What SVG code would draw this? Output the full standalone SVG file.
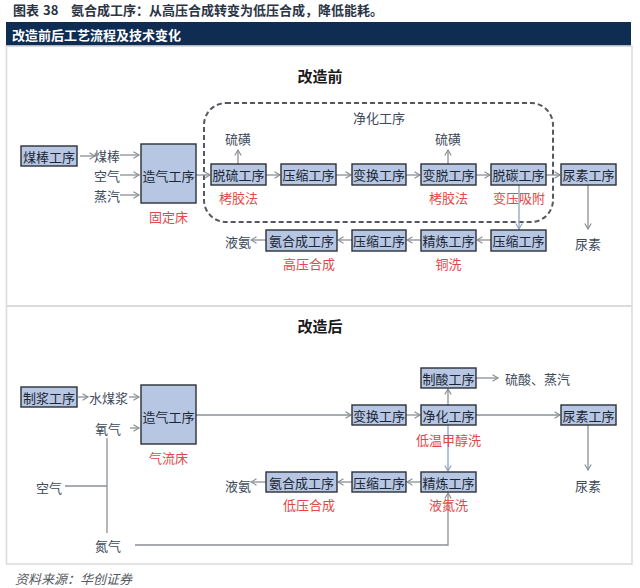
<svg xmlns="http://www.w3.org/2000/svg" width="640" height="588" viewBox="0 0 640 588">
<defs>
<marker id="ah" markerWidth="8" markerHeight="8" refX="6.5" refY="4" orient="auto" markerUnits="userSpaceOnUse">
<path d="M1,0.8 L6.5,4 L1,7.2" fill="none" stroke="#8a9096" stroke-width="1.2"/>
</marker>
<marker id="ahb" markerWidth="8" markerHeight="8" refX="6.5" refY="4" orient="auto" markerUnits="userSpaceOnUse">
<path d="M1,0.8 L6.5,4 L1,7.2" fill="none" stroke="#8fa2c2" stroke-width="1.2"/>
</marker>
<style>
text{font-family:"Noto Sans CJK SC","Noto Sans",sans-serif;}
.box{fill:#b6c6e3;stroke:#2b2f36;stroke-width:1.4;}
.bt{font-size:13px;fill:#1c2633;text-anchor:middle;dominant-baseline:central;}
.lb{font-size:13px;fill:#3d4a5b;text-anchor:middle;dominant-baseline:central;}
.rd{font-size:13px;fill:#e2474a;text-anchor:middle;dominant-baseline:central;}
.hd{font-size:15px;font-weight:bold;fill:#1a1a1a;text-anchor:middle;dominant-baseline:central;}
.ar{fill:none;stroke:#8a9096;stroke-width:1.3;marker-end:url(#ah);}
.arb{fill:none;stroke:#8fa2c2;stroke-width:1.3;marker-end:url(#ahb);}
.ln{fill:none;stroke:#8a9096;stroke-width:1.3;}
</style>
</defs>
<rect x="0" y="0" width="640" height="588" fill="#ffffff"/>
<text y="15" font-size="13" font-weight="bold" fill="#2a3444"><tspan x="13">图表</tspan><tspan x="43">38</tspan><tspan x="71">氨合成工序：从高压合成转变为低压合成，降低能耗。</tspan></text>
<rect x="6" y="22" width="625" height="24" fill="#0f2d52"/>
<line x1="6" y1="46.5" x2="631" y2="46.5" stroke="#c9d6e6" stroke-width="1"/>
<text x="12" y="34.5" font-size="13" font-weight="bold" fill="#ffffff" dominant-baseline="central">改造前后工艺流程及技术变化</text>
<rect x="6.5" y="46" width="625.5" height="518" fill="none" stroke="#dcdcdc" stroke-width="1.6"/>
<line x1="6.5" y1="306" x2="632" y2="306" stroke="#dcdcdc" stroke-width="2"/>

<text class="hd" x="320" y="75">改造前</text>
<text class="hd" x="320" y="325">改造后</text>

<g id="purify-zone">
<rect x="204" y="103" width="349" height="119" rx="22" fill="none" stroke="#55595f" stroke-width="2" stroke-dasharray="5,3"/>
<text class="lb" x="379" y="117">净化工序</text>
</g>

<g id="connectors">
<line class="ar" x1="80" y1="156" x2="95" y2="156"/>
<line class="ar" x1="120" y1="155" x2="139" y2="155"/>
<line class="ar" x1="120" y1="175" x2="139" y2="175"/>
<line class="ar" x1="120" y1="195" x2="139" y2="195"/>
<line class="ar" x1="196" y1="175" x2="210" y2="175"/>
<line class="ar" x1="238" y1="164" x2="238" y2="150"/>
<line class="ar" x1="266" y1="175" x2="280" y2="175"/>
<line class="ar" x1="336" y1="175" x2="351" y2="175"/>
<line class="ar" x1="406" y1="175" x2="420" y2="175"/>
<line class="ar" x1="448" y1="164" x2="448" y2="150"/>
<line class="ar" x1="476" y1="175" x2="490" y2="175"/>
<line class="ar" x1="546" y1="175" x2="560" y2="175"/>
<line class="ar" x1="588" y1="185" x2="588" y2="229"/>
<line class="arb" x1="519" y1="185" x2="519" y2="229"/>
<line class="ar" x1="491" y1="240" x2="477" y2="240"/>
<line class="ar" x1="421" y1="240" x2="407" y2="240"/>
<line class="ar" x1="352" y1="240" x2="338" y2="240"/>
<line class="ar" x1="266" y1="240" x2="251" y2="240"/>
<line class="ar" x1="78" y1="397" x2="88" y2="397"/>
<line class="ar" x1="129" y1="397" x2="139" y2="397"/>
<line class="ar" x1="130" y1="428" x2="139" y2="428"/>
<line class="ar" x1="196" y1="415" x2="351" y2="415"/>
<line class="ar" x1="406" y1="415" x2="420" y2="415"/>
<line class="ar" x1="476" y1="415" x2="560" y2="415"/>
<line class="ar" x1="448" y1="405" x2="448" y2="389"/>
<line class="ar" x1="476" y1="378" x2="498" y2="378"/>
<line class="arb" x1="448" y1="425" x2="448" y2="471"/>
<line class="ar" x1="588" y1="425" x2="588" y2="470"/>
<line class="ar" x1="421" y1="482" x2="407" y2="482"/>
<line class="ar" x1="352" y1="482" x2="338" y2="482"/>
<line class="ar" x1="266" y1="482" x2="251" y2="482"/>
<line class="ln" x1="107" y1="438" x2="107" y2="533"/>
<line class="ln" x1="65" y1="486" x2="107" y2="486"/>
<polyline class="ar" points="135,545 448,545 448,493"/>
</g>

<g id="n-meibang"><rect class="box" x="21" y="146" width="56" height="20"/><text class="bt" x="49" y="156">煤棒工序</text></g>
<g id="l-meibang"><text class="lb" x="107" y="155">煤棒</text></g>
<g id="l-kongqi1"><text class="lb" x="107" y="175">空气</text></g>
<g id="l-zhengqi1"><text class="lb" x="107" y="195">蒸汽</text></g>
<g id="n-zaoqi1"><rect class="box" x="141" y="144" width="55" height="59"/><text class="bt" x="168.5" y="175">造气工序</text><text class="rd" x="168.5" y="216">固定床</text></g>
<g id="n-tuoliu"><rect class="box" x="211" y="164" width="55" height="21"/><text class="bt" x="238.5" y="174.5">脱硫工序</text><text class="lb" x="238" y="138">硫磺</text><text class="rd" x="238.5" y="197">栲胶法</text></g>
<g id="n-yasuo1"><rect class="box" x="281" y="164" width="55" height="21"/><text class="bt" x="308.5" y="174.5">压缩工序</text></g>
<g id="n-bianhuan1"><rect class="box" x="352" y="164" width="54" height="21"/><text class="bt" x="379" y="174.5">变换工序</text></g>
<g id="n-biantuo"><rect class="box" x="421" y="164" width="55" height="21"/><text class="bt" x="448.5" y="174.5">变脱工序</text><text class="lb" x="448" y="138">硫磺</text><text class="rd" x="448.5" y="197">栲胶法</text></g>
<g id="n-tuotan"><rect class="box" x="491" y="164" width="55" height="21"/><text class="bt" x="518.5" y="174.5">脱碳工序</text><text class="rd" x="519" y="197">变压吸附</text></g>
<g id="n-niaosu1"><rect class="box" x="561" y="164" width="55" height="21"/><text class="bt" x="588.5" y="174.5">尿素工序</text></g>
<g id="l-niaosu1"><text class="lb" x="588" y="243">尿素</text></g>
<g id="n-yasuo2"><rect class="box" x="491" y="230" width="55" height="21"/><text class="bt" x="518.5" y="240.5">压缩工序</text></g>
<g id="n-jinglian1"><rect class="box" x="421" y="230" width="55" height="21"/><text class="bt" x="448.5" y="240.5">精炼工序</text><text class="rd" x="448.5" y="263">铜洗</text></g>
<g id="n-yasuo3"><rect class="box" x="352" y="230" width="54" height="21"/><text class="bt" x="379" y="240.5">压缩工序</text></g>
<g id="n-anhecheng1"><rect class="box" x="266" y="230" width="71" height="21"/><text class="bt" x="301.5" y="240.5">氨合成工序</text><text class="rd" x="309" y="263">高压合成</text></g>
<g id="l-yean1"><text class="lb" x="238" y="241">液氨</text></g>

<g id="n-zhijiang"><rect class="box" x="21" y="387" width="56" height="20"/><text class="bt" x="49" y="397">制浆工序</text></g>
<g id="l-shuimeijiang"><text class="lb" x="108.5" y="397">水煤浆</text></g>
<g id="l-yangqi"><text class="lb" x="108" y="428">氧气</text></g>
<g id="l-kongqi2"><text class="lb" x="49" y="487">空气</text></g>
<g id="l-danqi"><text class="lb" x="108" y="545">氮气</text></g>
<g id="n-zaoqi2"><rect class="box" x="141" y="385" width="55" height="59"/><text class="bt" x="168.5" y="416">造气工序</text><text class="rd" x="168.5" y="457">气流床</text></g>
<g id="n-bianhuan2"><rect class="box" x="352" y="405" width="54" height="20"/><text class="bt" x="379" y="415">变换工序</text></g>
<g id="n-jinghua"><rect class="box" x="421" y="405" width="55" height="20"/><text class="bt" x="448.5" y="415">净化工序</text><text class="rd" x="448.5" y="439">低温甲醇洗</text></g>
<g id="n-zhisuan"><rect class="box" x="421" y="368" width="55" height="20"/><text class="bt" x="448.5" y="378">制酸工序</text></g>
<g id="l-liusuan"><text class="lb" x="505" y="378" style="text-anchor:start">硫酸、蒸汽</text></g>
<g id="n-niaosu2"><rect class="box" x="561" y="405" width="55" height="20"/><text class="bt" x="588.5" y="415">尿素工序</text></g>
<g id="l-niaosu2"><text class="lb" x="588" y="485">尿素</text></g>
<g id="n-jinglian2"><rect class="box" x="421" y="472" width="55" height="20"/><text class="bt" x="448.5" y="482">精炼工序</text><text class="rd" x="448.5" y="504">液氮洗</text></g>
<g id="n-yasuo4"><rect class="box" x="352" y="472" width="54" height="20"/><text class="bt" x="379" y="482">压缩工序</text></g>
<g id="n-anhecheng2"><rect class="box" x="266" y="472" width="71" height="20"/><text class="bt" x="301.5" y="482">氨合成工序</text><text class="rd" x="309" y="504">低压合成</text></g>
<g id="l-yean2"><text class="lb" x="238" y="485">液氨</text></g>

<text x="15" y="578" font-size="13" font-style="italic" fill="#555a62" dominant-baseline="central">资料来源：华创证券</text>
</svg>
